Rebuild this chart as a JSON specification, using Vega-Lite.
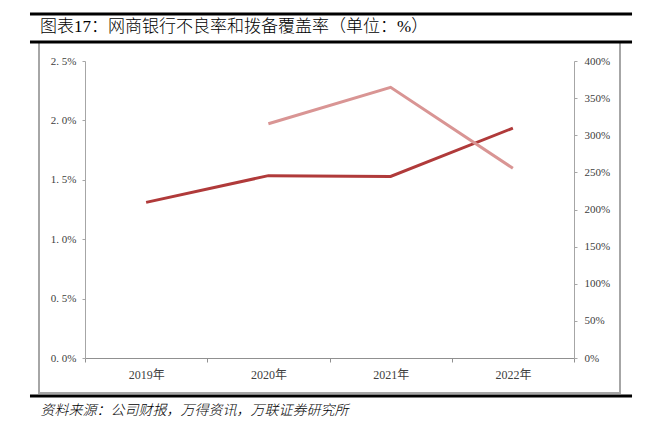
{
  "$schema": "https://vega.github.io/schema/vega-lite/v6.json",
  "width": 581,
  "height": 351,
  "autosize": {"type": "none"},
  "padding": {"left": 39, "top": 42, "right": 38, "bottom": 31},
  "background": "white",
  "title": {
    "text": "图表17：网商银行不良率和拨备覆盖率（单位：%）",
    "anchor": "start",
    "frame": "group",
    "font": "Liberation Serif, Noto Sans CJK SC",
    "fontSize": 17,
    "fontWeight": 300,
    "color": "#000000",
    "offset": 4,
    "dx": 1,
    "dy": 28
  },
  "config": {
    "view": {"stroke": "#A6A6A6", "strokeWidth": 2},
    "axis": {
      "labelFont": "Liberation Serif, Noto Sans CJK SC",
      "labelFontSize": 11,
      "labelColor": "#404040",
      "grid": false,
      "domainColor": "#A6A6A6",
      "tickColor": "#A6A6A6"
    }
  },
  "layer": [
    {
      "data": {
        "values": [
          {"year": "2019年", "npl": 1.31, "coverage": null},
          {"year": "2020年", "npl": 1.535, "coverage": 315.5},
          {"year": "2021年", "npl": 1.528, "coverage": 364.5},
          {"year": "2022年", "npl": 1.935, "coverage": 255.5}
        ]
      },
      "layer": [
        {
          "mark": {"type": "line", "color": "#B03A3A", "strokeWidth": 3},
          "encoding": {
            "x": {
              "field": "year",
              "type": "nominal",
              "sort": null,
              "bandPosition": 0.5,
              "scale": {"type": "band", "range": [46, 535], "paddingInner": 0, "paddingOuter": 0},
              "axis": {
                "orient": "bottom",
                "offset": -35,
                "labelAngle": 0,
                "labelFontSize": 12,
                "tickBand": "extent",
                "tickSize": 4,
                "labelPadding": 7,
                "domainColor": "#909090",
                "tickColor": "#909090",
                "title": "资料来源：公司财报，万得资讯，万联证券研究所",
                "titleFont": "Noto Sans CJK SC",
                "titleFontSize": 14,
                "titleFontStyle": "italic",
                "titleFontWeight": 300,
                "titleColor": "#000000",
                "titleAlign": "left",
                "titleBaseline": "middle",
                "titleX": 1,
                "titleY": 52
              }
            },
            "y": {
              "field": "npl",
              "type": "quantitative",
              "scale": {"domain": [0, 2.5], "range": [316, 19], "nice": false, "zero": true},
              "axis": {
                "orient": "left",
                "offset": -46,
                "values": [0, 0.5, 1, 1.5, 2, 2.5],
                "labelExpr": "replace(format(datum.value, '.1f'), '.', '. ') + '%'",
                "tickSize": 3,
                "labelPadding": 6,
                "title": null
              }
            }
          }
        },
        {
          "mark": {"type": "line", "color": "#D99594", "strokeWidth": 3},
          "encoding": {
            "x": {"field": "year", "type": "nominal", "sort": null, "bandPosition": 0.5},
            "y": {
              "field": "coverage",
              "type": "quantitative",
              "scale": {"domain": [0, 400], "range": [316, 19], "nice": false, "zero": true},
              "axis": {
                "orient": "right",
                "offset": -46,
                "values": [0, 50, 100, 150, 200, 250, 300, 350, 400],
                "labelExpr": "datum.value + '%'",
                "tickSize": 3,
                "labelPadding": 7,
                "title": null
              }
            }
          }
        }
      ],
      "resolve": {"scale": {"y": "independent"}}
    },
    {
      "data": {"values": [{}]},
      "layer": [
        {
          "mark": {"type": "rule", "color": "#000000", "strokeWidth": 3},
          "encoding": {
            "x": {"datum": -0.0155, "type": "quantitative", "scale": {"domain": [0, 1], "nice": false, "zero": false}, "axis": null},
            "x2": {"datum": 1.0207},
            "y": {"datum": 1.0798, "type": "quantitative", "scale": {"domain": [0, 1], "nice": false, "zero": false}, "axis": null}
          }
        },
        {
          "mark": {"type": "rule", "color": "#000000", "strokeWidth": 3},
          "encoding": {
            "x": {"datum": -0.0155, "type": "quantitative"},
            "x2": {"datum": 1.0207},
            "y": {"datum": 1.0, "type": "quantitative"}
          }
        },
        {
          "mark": {"type": "rule", "color": "#000000", "strokeWidth": 3},
          "encoding": {
            "x": {"datum": -0.0155, "type": "quantitative"},
            "x2": {"datum": 1.0207},
            "y": {"datum": -0.0085, "type": "quantitative"}
          }
        }
      ]
    }
  ],
  "resolve": {"scale": {"x": "independent", "y": "independent"}}
}
